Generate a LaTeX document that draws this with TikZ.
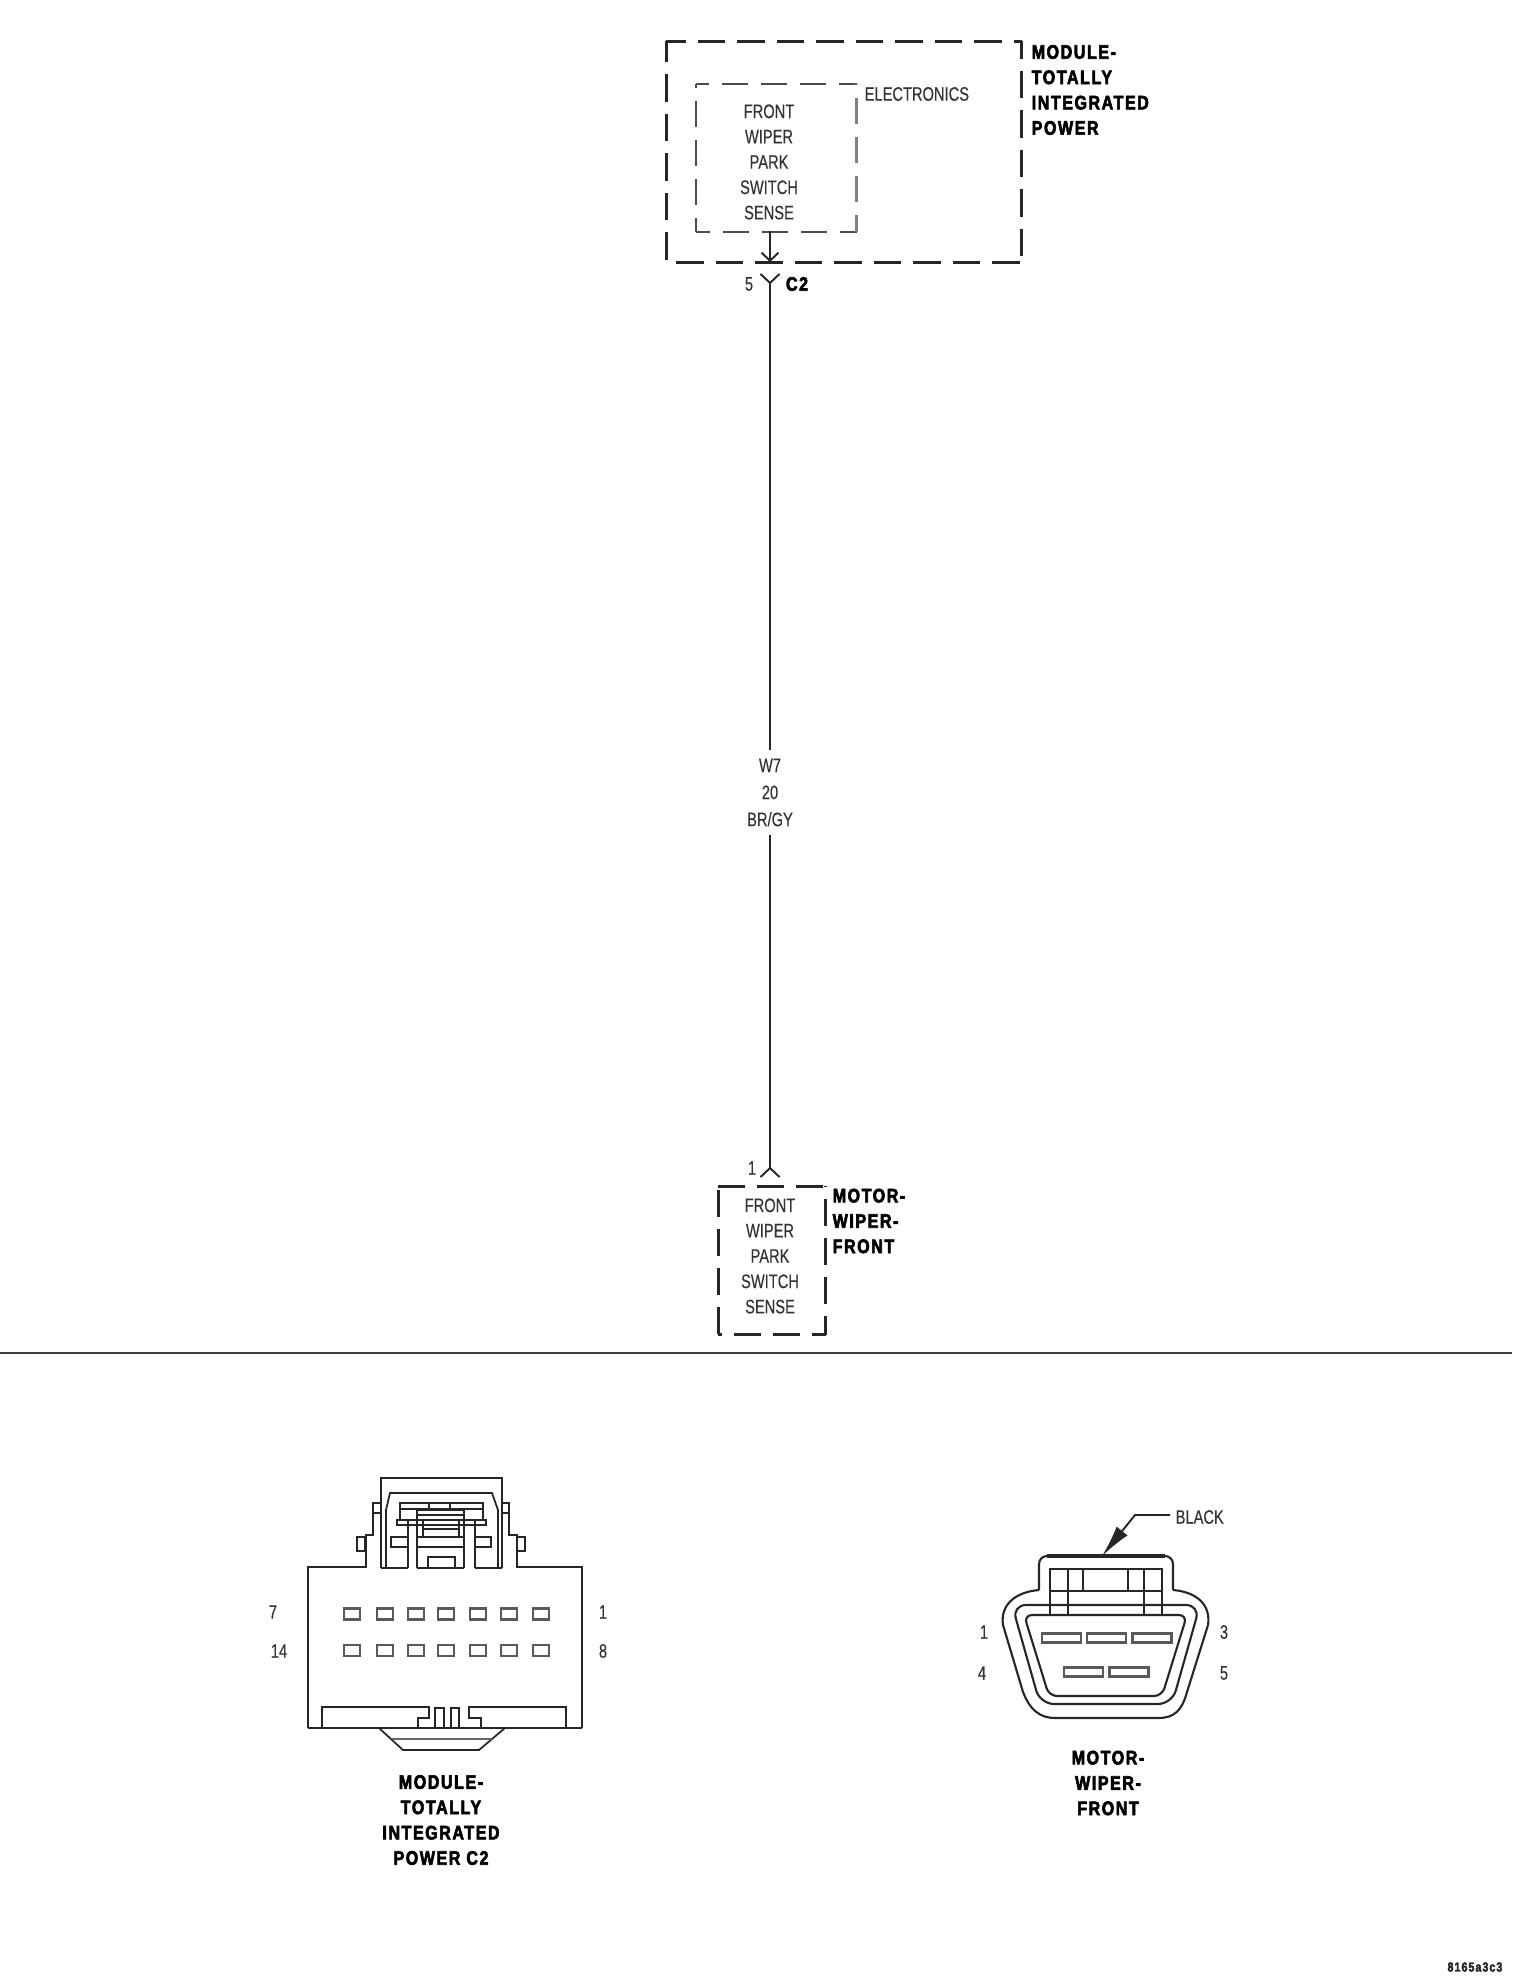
\documentclass[tikz,border=0pt]{standalone}
\usepackage{fontspec}
\usetikzlibrary{arrows.meta}
\newfontfamily\thinfont[FakeStretch=0.75,FakeBold=0.3]{Liberation Sans}
\newfontfamily\headfont[FakeStretch=0.82,LetterSpace=8,FakeBold=3]{Liberation Sans}
\tikzset{
	thintext/.style = {font=\thinfont\fontsize{5.56}{7.2}\selectfont, text=black!80, align=center, inner sep=0},
	headtext/.style = {font=\headfont\bfseries\fontsize{5.56}{7.2}\selectfont, text=black, inner sep=0},
	wire/.style = {line width=0.55pt, draw=black!85},
	shape line/.style = {line width=0.5pt, draw=black!85},
	outerdash/.style = {draw=black!85, line width=0.9pt, dash pattern=on 0.275cm off 0.12cm},
	motordash/.style = {draw=black!85, line width=0.75pt, dash pattern=on 0.27cm off 0.12cm},
	innerdash/.style = {draw=black!70, line width=0.5pt, dash pattern=on 0.26cm off 0.13cm},
	boxspace/.style = {rectangle, inner sep=0},
	slotbox/.style = {draw=black!65, rectangle, line width=0.7pt, minimum width=0.16cm, minimum height=0.11cm, inner sep=0}
}
\begin{document}
\begin{tikzpicture}[x=0.01cm, y=-0.01cm]
			\useasboundingbox (0,0) rectangle (1512,1980);
			
			\node[boxspace, minimum width = 3.54cm, minimum height = 2.2cm]
			(Module) at (844,152) {};
			\draw[outerdash, dash phase = 0.08cm] (Module.north west) -- (Module.north east);
			\draw[outerdash, dash phase = 0.065cm] (Module.north west) -- (Module.south west);
			\draw[outerdash, dash phase = 0.10cm] (Module.north east) -- (Module.south east);
			\draw[outerdash, dash phase = 0.295cm] (Module.south west) -- (Module.south east);
			
			\node[boxspace, minimum width = 1.59cm, minimum height = 1.46cm]
			(ModuleSense) at (776.5,158) {};
			\draw[innerdash, dash phase = 0.13cm] (ModuleSense.north west) -- (ModuleSense.north east);
			\draw[innerdash, dash phase = 0.22cm] (ModuleSense.north west) -- (ModuleSense.south west);
			\draw[innerdash, dash phase = 0.12cm] (ModuleSense.south west) -- (ModuleSense.south east);
			\draw[innerdash, dash phase = 0.09cm, line width = 0.8pt, draw = black!50] (ModuleSense.south east) -- (ModuleSense.north east);
			
			\node[thintext]
			(ModuleSenseText) at (769,162) {FRONT\\WIPER\\PARK\\SWITCH\\SENSE};
			\node[thintext, anchor = west]
			(Electronics) at (864,94) {ELECTRONICS};
			\node[headtext, anchor = west, align = left]
			(ModuleName) at (1031,90) {MODULE-\\TOTALLY\\INTEGRATED\\POWER};
			
			\coordinate (ModuleSenseEnd) at (770,231);
			\coordinate (ModuleEnter) at (770,262);
			\draw[wire, -{Straight Barb[length=0.08cm, width=0.17cm]}] (ModuleSenseEnd) -- (ModuleEnter);
			
			\coordinate (PinFive) at (770,273);
			\coordinate (PinOne) at (770,1178);
			\node[thintext, minimum height = 0.83cm, minimum width = 0.6cm]
			(WireName) at (770,792.5) {W7\\[0.5pt]20\\[0.5pt]BR/GY};
			\draw[wire, {Straight Barb[length=0.09cm, width=0.19cm, reversed]}-] (PinFive) -- (WireName);
			\draw[wire, -{Straight Barb[length=0.09cm, width=0.19cm, reversed]}] (WireName) -- (PinOne);
			
			\node[thintext] (PinFiveText) at (749,284) {5};
			\node[headtext] (ModuleConn) at (797,284) {C2};
			\node[thintext] (PinOneText) at (752,1168) {1};
			
			\node[boxspace, minimum width = 1.06cm, minimum height = 1.47cm]
			(Motor) at (772,1260.5) {};
			\draw[motordash] (Motor.north west) -- (Motor.north east);
			\draw[motordash, dash phase = 0.35cm] (Motor.north west) -- (Motor.south west);
			\draw[motordash, dash phase = 0.26cm] (Motor.north east) -- (Motor.south east);
			\draw[motordash, dash phase = 0.23cm] (Motor.south west) -- (Motor.south east);
			
			\node[thintext]
			(MotorSenseText) at (770,1256) {FRONT\\WIPER\\PARK\\SWITCH\\SENSE};
			\node[headtext, anchor = west, align = left]
			(MotorName) at (832,1221) {MOTOR-\\WIPER-\\FRONT};
			
			\coordinate (RuleLeft) at (0,1353);
			\coordinate (RuleRight) at (1512,1353);
			\draw[wire, draw = black!75] (RuleLeft) -- (RuleRight);
			
			\draw[shape line] (308,1728) -- (308,1567) -- (366,1567) -- (366,1535) -- (373,1535) -- (373,1503) -- (381,1503);
			\draw[shape line] (582,1728) -- (582,1567) -- (517,1567) -- (517,1535) -- (509,1535) -- (509,1503) -- (502,1503);
			\draw[shape line] (308,1728) -- (582,1728);
			\draw[shape line] (373,1513) -- (381,1513) (502,1513) -- (509,1513);
			\draw[shape line] (365,1537) rectangle (357,1551);
			\draw[shape line] (517,1537) rectangle (525,1551);
			\draw[shape line] (381,1568) -- (381,1478) -- (502,1478) -- (502,1568);
			\draw[shape line] (386,1568) -- (386,1510) -- (390,1493) -- (492,1493) -- (498,1510) -- (498,1568);
			\draw[shape line, line width = 0.7pt] (381,1568) -- (408,1568) (417,1568) -- (464,1568) (475,1568) -- (502,1568);
			\draw[shape line] (400,1520) -- (400,1503) -- (483,1503) -- (483,1520);
			\draw[shape line] (400,1509) -- (483,1509);
			\draw[shape line] (429,1503) -- (429,1509) (450,1503) -- (450,1509);
			\draw[shape line] (397,1525) rectangle (486,1520);
			\draw[shape line] (408,1520) -- (408,1568) (475,1520) -- (475,1568);
			\draw[shape line] (417,1568) -- (417,1510) -- (464,1510) -- (464,1568);
			\draw[shape line] (417,1515) -- (464,1515);
			\draw[shape line] (423,1520) rectangle (459,1537);
			\draw[shape line] (423,1529) -- (459,1529);
			\draw[shape line] (417,1537) -- (464,1537) (417,1547) -- (464,1547);
			\draw[shape line] (391,1537) rectangle (408,1547);
			\draw[shape line] (475,1537) rectangle (491,1547);
			\draw[shape line] (428,1568) -- (428,1557) -- (455,1557) -- (455,1568);
			
			\foreach \slotx [count=\i] in {541,509,478,446,416,385,352}
			{
				\node[slotbox] (SlotTop\i) at (\slotx,1614) {};
				\node[slotbox] (SlotBottom\i) at (\slotx,1650.5) {};
			}
			\node[thintext] (ModulePinSeven) at (273,1612) {7};
			\node[thintext] (ModulePinFourteen) at (279,1651) {14};
			\node[thintext] (ModulePinOne) at (603,1612) {1};
			\node[thintext] (ModulePinEight) at (603,1651) {8};
			
			\draw[shape line] (322,1728) -- (322,1707) -- (429,1707) -- (429,1718) -- (418,1718) -- (418,1728);
			\draw[shape line] (435,1728) -- (435,1708) -- (444,1708) -- (444,1728);
			\draw[shape line] (451,1728) -- (451,1708) -- (459,1708) -- (459,1728);
			\draw[shape line] (481,1728) -- (481,1718) -- (469,1718) -- (469,1707) -- (566,1707) -- (566,1728);
			\draw[shape line] (379,1728) -- (403,1750) -- (479,1750) -- (505,1728);
			\draw[shape line, line width = 0.8pt, draw = black!60] (392,1739) -- (492,1739);
			
			\node[headtext, align = center]
			(ModuleConnName) at (441,1820) {MODULE-\\TOTALLY\\INTEGRATED\\POWER C2};
			
			\draw[shape line, line width = 0.6pt] (1039,1590) .. controls (1015,1592) and (1000,1605) .. (1003,1625) -- (1023,1692) .. controls (1030,1710) and (1040,1718) .. (1055,1718) -- (1158,1718) .. controls (1175,1718) and (1182,1710) .. (1187,1692) -- (1208,1625) .. controls (1211,1605) and (1197,1592) .. (1173,1590);
			\draw[shape line, line width = 0.6pt, rounded corners = 0.08cm] (1039,1590) -- (1039,1556) -- (1173,1556) -- (1173,1590);
			\draw[shape line, line width = 0.9pt] (1047,1556) -- (1165,1556);
			\draw[shape line, line width = 0.6pt, rounded corners = 0.14cm] (1012,1605) -- (1200,1605) -- (1172,1704) -- (1040,1704) -- cycle;
			\draw[shape line, line width = 0.6pt, rounded corners = 0.08cm] (1024,1615) -- (1187,1615) -- (1162,1696) -- (1049,1696) -- cycle;
			\draw[shape line] (1050,1614) -- (1050,1569) -- (1162,1569) -- (1162,1614);
			\draw[shape line] (1050,1591) -- (1162,1591);
			\draw[shape line] (1068,1569) -- (1068,1614) (1144,1569) -- (1144,1614);
			\draw[shape line] (1083,1569) -- (1083,1591) (1128,1569) -- (1128,1591);
			
			\foreach \slotx [count=\i] in {1061.5,1106.5,1152}
				\node[slotbox, minimum width = 0.39cm, minimum height = 0.09cm] (TermTop\i) at (\slotx,1638) {};
			\foreach \slotx [count=\i] in {1083.5,1129}
				\node[slotbox, minimum width = 0.39cm, minimum height = 0.09cm] (TermBottom\i) at (\slotx,1672) {};
			
			\node[thintext] (MotorPinOne) at (984,1632) {1};
			\node[thintext] (MotorPinFour) at (982,1673) {4};
			\node[thintext] (MotorPinThree) at (1224,1632) {3};
			\node[thintext] (MotorPinFive) at (1224,1673) {5};
			
			\node[thintext, anchor = west]
			(BlackText) at (1175,1517) {BLACK};
			\coordinate (BlackStart) at (1170,1515);
			\coordinate (BlackBend) at (1135,1515);
			\coordinate (BlackTip) at (1102,1556);
			\draw[wire, -{Latex[length=0.32cm, width=0.14cm]}] (BlackStart) -- (BlackBend) -- (BlackTip);
			
			\node[headtext, align = center]
			(MotorConnName) at (1108,1783) {MOTOR-\\WIPER-\\FRONT};
			
			\node[headtext, anchor = east, font = \headfont\bfseries\fontsize{3.7}{4}\selectfont, text = black!85]
			(DrawingId) at (1503,1967) {8165a3c3};
			
		\end{tikzpicture}
\end{document}
